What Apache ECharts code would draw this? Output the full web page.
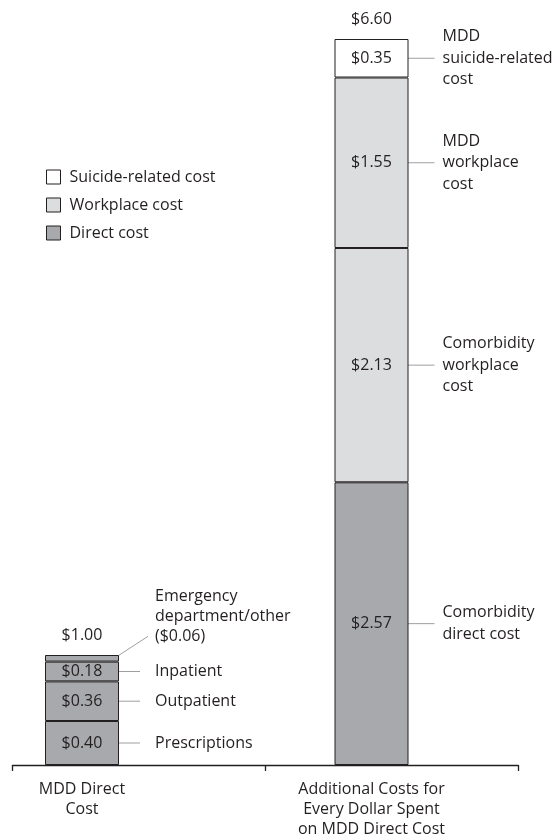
<!DOCTYPE html>
<html><head><meta charset="utf-8">
<script src="https://cdn.jsdelivr.net/npm/echarts@6/dist/echarts.min.js"></script>
<style>html,body{margin:0;padding:0;background:#fff}#c{width:558px;height:838px}</style>
</head><body><div id="c"></div>
<script>
// ---------- data ----------
const categories = ['MDD Direct\nCost', 'Additional Costs for\nEvery Dollar Spent\non MDD Direct Cost'];
const legendOrder = ['Suicide-related cost', 'Workplace cost', 'Direct cost'];
// stacked segments, bottom to top: [MDD direct bar, additional-costs bar]
const segmentCostType = ['Direct cost', 'Direct cost', 'Direct cost', 'Direct cost', 'Workplace cost', 'Workplace cost', 'Suicide-related cost'];
const segmentValues = [
  [0.40, 2.57],
  [0.36, null],
  [0.18, null],
  [0.06, null],
  [null, 2.13],
  [null, 1.55],
  [null, 0.35]
];
const segmentNames = [
  ['Prescriptions', 'Comorbidity\ndirect cost'],
  ['Outpatient', null],
  ['Inpatient', null],
  ['Emergency\ndepartment/other', null],
  [null, 'Comorbidity\nworkplace\ncost'],
  [null, 'MDD\nworkplace\ncost'],
  [null, 'MDD\nsuicide-related\ncost']
];

// ---------- style ----------
const FONT = 'Open Sans';
const FS = 16;
const TEXT = '#231f20';
const LEADER = '#9d9fa2';
const costColors = {'Direct cost': '#a7a9ac', 'Workplace cost': '#dcddde', 'Suicide-related cost': '#ffffff'};
const leaderStyle = [{dist: 21, pad: 15}, {dist: 26, pad: 8}];
const CALLOUT_SEGMENT = 3; // thin segment labelled with a diagonal callout
const BAR_W = 74;
const fmt = v => '$' + v.toFixed(2);
const totals = categories.map((_, i) => segmentValues.reduce((s, arr) => s + (arr[i] || 0), 0));
const baseText = {color: TEXT, fontFamily: FONT, fontSize: FS};

const series = [];
segmentValues.forEach((vals, s) => {
  series.push({
    type: 'bar', name: segmentCostType[s], stack: 'bars', xAxisIndex: 0, yAxisIndex: 0,
    barWidth: BAR_W, barGap: '-100%', clip: false, animation: false,
    emphasis: {disabled: true},
    itemStyle: {color: costColors[segmentCostType[s]], borderColor: TEXT, borderWidth: 1},
    data: vals.map((v, i) => {
      if (v == null) return '-';
      const desc = segmentNames[s][i];
      const item = {value: v};
      if (desc) {
        if (s === CALLOUT_SEGMENT) {
          // two empty trailing lines put the guide-line anchor on the last text line
          item.label = Object.assign({show: true, position: 'right', distance: 29, offset: [0, -22],
            formatter: desc + '\n(' + fmt(v) + ')\n\n', lineHeight: 20, align: 'left', verticalAlign: 'middle',
            padding: [0, 0, 0, 7], backgroundColor: 'rgba(255,255,255,0)'}, baseText);
        } else {
          item.label = Object.assign({show: true, position: 'right', distance: leaderStyle[i].dist,
            formatter: desc, lineHeight: 21.5, align: 'left', verticalAlign: 'middle',
            padding: [0, 0, 0, leaderStyle[i].pad], backgroundColor: 'rgba(255,255,255,0)'}, baseText);
        }
        item.labelLine = {show: true, length2: 0, lineStyle: {color: LEADER, width: 1}};
      }
      return item;
    })
  });
});
// transparent twin stack carrying the value labels
segmentValues.forEach((vals, s) => {
  series.push({
    type: 'bar', name: 'value' + s, stack: 'values', xAxisIndex: 0, yAxisIndex: 0,
    barWidth: BAR_W, barGap: '-100%', clip: false, animation: false, silent: true,
    itemStyle: {color: 'rgba(0,0,0,0)'},
    label: Object.assign({show: s !== CALLOUT_SEGMENT, position: 'inside', formatter: p => fmt(p.value)}, baseText),
    data: vals.map(v => v == null ? '-' : v)
  });
});
series.push({
  type: 'bar', name: 'total', stack: 'values', xAxisIndex: 0, yAxisIndex: 0,
  barWidth: BAR_W, barGap: '-100%', clip: false, animation: false, silent: true,
  itemStyle: {color: 'rgba(0,0,0,0)'},
  label: Object.assign({show: true, position: 'top', distance: 12, formatter: p => fmt(totals[p.dataIndex])}, baseText),
  data: totals.map(() => 0)
});

const chart = echarts.init(document.getElementById('c'), null, {renderer: 'canvas'});
chart.setOption({
  animation: false,
  backgroundColor: '#ffffff',
  legend: {
    data: legendOrder, orient: 'vertical', left: 41, top: 164,
    itemWidth: 14, itemHeight: 14, itemGap: 12, icon: 'rect', selectedMode: false,
    itemStyle: {borderColor: TEXT, borderWidth: 1},
    textStyle: Object.assign({lineHeight: 14, padding: [0, 0, 0, 4]}, baseText)
  },
  grid: [
    {left: 82, right: 186.5, top: 17, bottom: 73, outerBoundsMode: 'none', containLabel: false},
    {left: 12.5, right: 40, top: 17, bottom: 73, outerBoundsMode: 'none', containLabel: false}
  ],
  xAxis: [
    {gridIndex: 0, type: 'category', data: categories, boundaryGap: false,
     axisLine: {show: false}, axisTick: {show: false}, splitLine: {show: false},
     axisLabel: Object.assign({interval: 0, margin: 14.5, lineHeight: 20, align: 'center'}, baseText)},
    {gridIndex: 1, type: 'category', data: ['', ''], boundaryGap: true,
     axisLine: {lineStyle: {color: TEXT, width: 1.3}},
     axisTick: {show: true, length: 6, lineStyle: {color: TEXT, width: 1.3}},
     axisLabel: {show: false}, splitLine: {show: false}}
  ],
  yAxis: [
    {gridIndex: 0, type: 'value', min: 0, max: 6.8, show: false},
    {gridIndex: 1, type: 'value', min: 0, max: 1, show: false}
  ],
  series: series
});
</script>
</body></html>
